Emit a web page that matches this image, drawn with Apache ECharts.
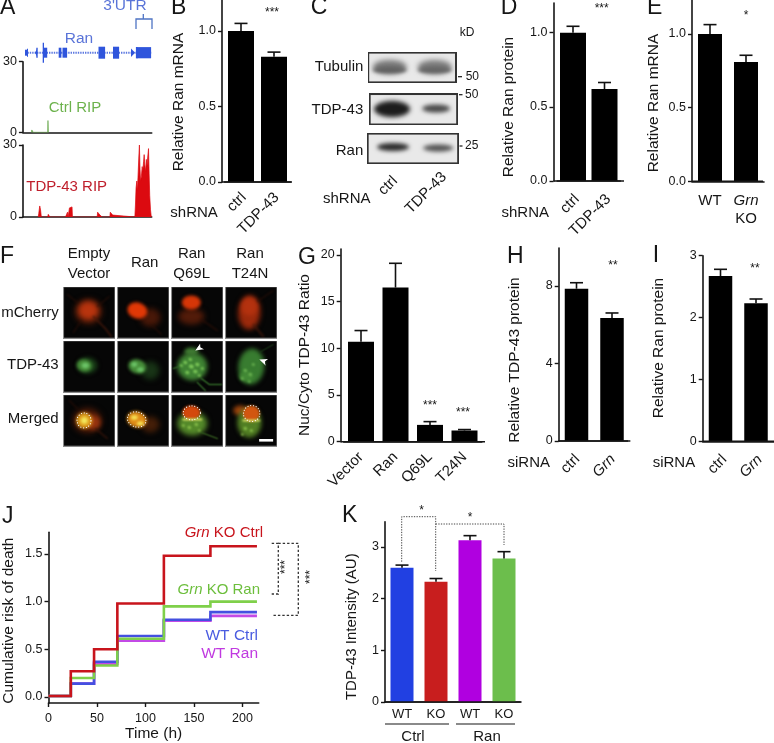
<!DOCTYPE html>
<html><head><meta charset="utf-8">
<style>html,body{margin:0;padding:0;background:#fff}#c{width:774px;height:743px}</style>
<script src="https://cdn.jsdelivr.net/npm/echarts@6/dist/echarts.min.js"></script>
</head><body><div id="c"></div>
<script>
// ---------- data ----------
const ctrlRipProfile = [[8.6,0],[9,1],[10,1],[10.4,0],[25,0],[25.3,5],[25.7,0]];
const tdpRipProfile = [[15.5,0],[16,1.5],[17,4.6],[17.8,3],[18.6,0],[25,0],[25.6,1.1],[26.8,0.8],[27.2,0],
 [43,0],[44,1],[45,2],[45.6,0],[46.6,0],[47,3.8],[48.2,4.2],[49.6,4.2],[50,0],
 [75,0],[75.4,2],[77.4,2],[77.8,0.8],[79.3,1],[80,0],[87.8,0],[88.2,2],[90.2,2],[90.6,0.8],[92,0.8],[92.6,0],
 [113,0],[113.6,5],[114.2,12],[115,15],[115.6,11],[116.4,19],[117,25],[117.6,30],[118.2,20],[118.8,15],[119.6,17],[120.4,21],[121,19],[121.8,23],[122.4,26],[123,22],[123.8,19],[124.6,24],[125.2,21],[126,25],[126.8,28.5],[127.4,18],[128,9],[128.8,3],[129.6,0]];

const bCats = ['ctrl','TDP-43'], bValues = [1.0,0.83], bErrTops = [1.05,0.86];
const dCats = ['ctrl','TDP-43'], dValues = [1.0,0.62], dErrTops = [1.043,0.664];
const eCats = ['WT','Grn KO'], eValues = [1.0,0.81], eErrTops = [1.063,0.855];
const gCats = ['Vector','Ran','Q69L','T24N'], gValues = [10.7,16.5,1.8,1.2], gErrTops = [11.9,19.1,2.15,1.3];
const hCats = ['ctrl','Grn'], hValues = [7.85,6.34], hErrTops = [8.16,6.6];
const iCats = ['ctrl','Grn'], iValues = [2.67,2.23], iErrTops = [2.78,2.30];
const kCats = ['WT','KO','WT','KO'], kValues = [2.6,2.33,3.13,2.78], kErrTops = [2.65,2.39,3.22,2.91];
const kColors = ['#2140e2','#c81e1e','#b000e0','#6cbe4c'];

const jTimes = [0,23,47,71,119,167,215];
const jGrnKoCtrl = [0.01,0.27,0.50,0.98,1.48,1.58,1.58];
const jGrnKoRan  = [0.01,0.20,0.33,0.61,0.95,1.00,1.00];
const jWtCtrl    = [0.01,0.14,0.37,0.64,0.81,0.89,0.89];
const jWtRan     = [0.01,0.14,0.35,0.59,0.80,0.85,0.85];

const ticks01 = [0,0.5,1], ticksG = [0,5,10,15,20], ticksH = [0,4,8], ticksI = [0,1,2,3], ticksK = [0,1,2,3];
const ticksJy = [0,0.5,1,1.5], ticksJx = [0,50,100,150,200], ticksA = [0,30];

// ---------- helpers ----------
const FF = '"Liberation Sans", Arial, sans-serif';
const INK = '#161616';
const TICK = 12.5, LABEL = 15, NAME = 15.5;
const grids=[], xAxes=[], yAxes=[], series=[], gfx=[];

function T(x,y,text,o={}){
  const a=o.align||'center', v=o.v||'middle';
  gfx.push({type:'text',x,y,rotation:o.rot||0,silent:true,z:20,style:{text,
    fill:o.color||INK,fontSize:o.size||LABEL,fontFamily:FF,fontStyle:o.italic?'italic':'normal',
    align:a,textAlign:a,verticalAlign:v,textVerticalAlign:v,rich:o.rich}});
}
function L(pts,o={}){
  gfx.push({type:'polyline',silent:true,z:o.z||15,shape:{points:pts},
    style:{fill:null,stroke:o.color||INK,lineWidth:o.w||1.2,lineDash:o.dash||null}});
}
function R(x,y,w,h,color,z){ gfx.push({type:'rect',silent:true,z:z||15,shape:{x,y,width:w,height:h},style:{fill:color}}); }

function axisStyle(){return {show:true,lineStyle:{color:INK,width:1.6}};}
function valueAxis(idx,min,max,ticks,fmt,extra={},margin){
  return Object.assign({type:'value',gridIndex:idx,min,max,splitLine:{show:false},
    axisLine:Object.assign(axisStyle(),{onZero:false}),
    axisTick:{show:true,length:4,lineStyle:{color:INK,width:1.4},customValues:ticks},
    axisLabel:{show:true,customValues:ticks,margin:margin||6,color:INK,fontSize:TICK,fontFamily:FF,formatter:fmt||(v=>String(v))}},extra);
}
const errRender=(capW)=>(p,api)=>{
  const top=api.coord([api.value(0),api.value(1)]), base=api.coord([api.value(0),api.value(2)]);
  const st={stroke:'#111',lineWidth:1.6,fill:null};
  return {type:'group',children:[
    {type:'line',shape:{x1:top[0],y1:top[1],x2:base[0],y2:base[1]},style:st},
    {type:'line',shape:{x1:top[0]-capW,y1:top[1],x2:top[0]+capW,y2:top[1]},style:st}]};
};
function barPanel(c){
  const idx=grids.length, n=c.cats.length;
  const gl=c.c0-c.sp/2, gw=c.sp*n;
  grids.push({left:gl,top:c.top,width:gw,height:c.y0-c.top});
  const rich={i:{fontStyle:'italic',fontSize:c.xSize||LABEL,fontFamily:FF,color:INK}};
  xAxes.push({type:'category',gridIndex:idx,data:c.cats,
    axisLine:Object.assign(axisStyle(),{onZero:false}),axisTick:{show:false},
    axisLabel:{show:true,interval:0,rotate:c.rotate||0,margin:c.xMargin||7,color:INK,fontSize:c.xSize||LABEL,fontFamily:FF,
      padding:[0,-(c.slide||0),0,0],lineHeight:18,rich,formatter:v=>v.replace(' KO','\nKO').replace('Grn','{i|Grn}')}});
  const d=c.nameY-(c.top+c.y0)/2;
  yAxes.push(valueAxis(idx,0,c.ymax,c.ticks,c.fmt,{offset:gl-c.axL,name:c.name,nameLocation:'middle',
    nameGap:c.axL-c.nameX-9,nameRotate:90,
    nameTextStyle:{color:INK,fontSize:c.nameSize||NAME,fontFamily:FF,padding:d>=0?[0,2*d,0,0]:[0,0,0,-2*d]}}));
  L([[c.axL,c.y0],[c.axR,c.y0]],{w:1.6});
  series.push({type:'bar',xAxisIndex:idx,yAxisIndex:idx,barWidth:c.bw,animation:false,silent:true,
    data:c.values.map((v,i)=>({value:v,itemStyle:{color:c.colors?c.colors[i]:'#000'}}))});
  series.push({type:'custom',xAxisIndex:idx,yAxisIndex:idx,animation:false,silent:true,clip:false,z:5,
    renderItem:errRender(6.5),encode:{x:0,y:1},
    data:c.errs.map((e,i)=>[i,e,c.values[i]])});
}

// ---------- canvas "photos" (blots and micrographs) ----------
function canvasImg(x,y,w,h,draw){
  const s=2,cv=document.createElement('canvas');cv.width=w*s;cv.height=h*s;
  const ctx=cv.getContext('2d');ctx.scale(s,s);draw(ctx,w,h);
  gfx.push({type:'image',silent:true,z:3,style:{image:cv,x,y,width:w,height:h}});
}
function blob(ctx,x,y,rx,ry,rot,col,blur){
  ctx.save();ctx.filter=`blur(${blur*2}px)`;ctx.fillStyle=col;ctx.beginPath();
  ctx.ellipse(x,y,rx,ry,rot,0,Math.PI*2);ctx.fill();ctx.restore();
}
function stroke(ctx,pts,col,w,blur){
  ctx.save();ctx.filter=`blur(${blur*2}px)`;ctx.strokeStyle=col;ctx.lineWidth=w;ctx.lineCap='round';ctx.beginPath();
  pts.forEach((p,i)=>i?ctx.lineTo(p[0],p[1]):ctx.moveTo(p[0],p[1]));ctx.stroke();ctx.restore();
}
function blot(x,y,w,h,bands){
  canvasImg(x,y,w,h,(c)=>{
    c.fillStyle='#e9e9e9';c.fillRect(0,0,w,h);
    bands.forEach(b=>blob(c,b[0],b[1],b[2],b[3],0,b[4],b[5]));
    c.strokeStyle='#333';c.lineWidth=1.6;c.strokeRect(.8,.8,w-1.6,h-1.6);
  });
}
const dots=(c,list,col)=>list.forEach(p=>blob(c,p[0],p[1],p[2],p[2]*.8,.4,col,1));
function micro(x,y,paint){
  canvasImg(x,y,52,52,(c,w,h)=>{
    c.fillStyle='#060606';c.fillRect(0,0,w,h);paint(c);
    c.strokeStyle='#8a8a8a';c.lineWidth=.8;c.strokeRect(.4,.4,w-.8,h-.8);
  });
}
function dotted(c,x,y,rx,ry,rot){
  c.save();c.strokeStyle='#fff';c.lineWidth=1;c.setLineDash([1.1,1.7]);c.beginPath();c.ellipse(x,y,rx,ry,rot,0,Math.PI*2);c.stroke();c.restore();
}
function arrow(c,x,y,rot){
  c.save();c.translate(x,y);c.rotate(rot);c.fillStyle='#fff';c.beginPath();c.moveTo(0,0);c.lineTo(8,-3.5);c.lineTo(6,0);c.lineTo(8,3.5);c.closePath();c.fill();c.restore();
}
const cols=[63.3,117.3,171.3,225.3], rows=[286.5,340.5,394.5];
const RDim='#481808',GB='#6cc468',GM='#478f3a',GD='#1a3f18',FAINT='#2c0f07';
// mCherry row
micro(cols[0],rows[0],c=>{blob(c,25,25,14,13,0,RDim,3);blob(c,25,24,10,9,0,'#b8340e',2.6);
  stroke(c,[[30,30],[42,42],[48,50]],'#481a0b',1.4,1);stroke(c,[[34,20],[46,10]],FAINT,1,1);stroke(c,[[14,16],[4,8]],FAINT,1,1);stroke(c,[[18,34],[10,46]],FAINT,1,1);});
micro(cols[1],rows[0],c=>{blob(c,33,31,10,9,0,RDim,2.8);blob(c,20,24,10,8,.3,'#e03806',1.5);stroke(c,[[34,38],[44,48]],FAINT,1,1);});
micro(cols[2],rows[0],c=>{blob(c,20,30,13,8,0,'#521b09',2.8);blob(c,20,16,9.5,7,0,'#d63607',1.5);stroke(c,[[30,33],[46,44]],FAINT,1.2,1);});
micro(cols[3],rows[0],c=>{blob(c,24,26,11,17,.05,'#9c2a0c',2.6);blob(c,24,20,8,9,0,'#b4320f',2.2);stroke(c,[[28,38],[38,50]],'#481a0b',1.4,1.2);stroke(c,[[32,15],[48,4]],FAINT,1,1);});
// TDP-43 row
micro(cols[0],rows[1],c=>{blob(c,24,25,10,8,0,GD,2.2);blob(c,21,25,7.5,6,.2,GM,1.6);blob(c,22,25,3.6,2.8,0,GB,1.4);});
micro(cols[1],rows[1],c=>{blob(c,33,30,9,9,0,'#183416',2.8);blob(c,20,26,9,7,.3,GM,1.5);blob(c,17,24,3,2.4,0,GB,1.2);blob(c,23,29,3.4,2.2,0,GB,1.2);});
micro(cols[2],rows[1],c=>{blob(c,21,26,15,14,0,'#3f8333',2.5);blob(c,20,11,7,4,0,'#3f7a32',1.8);
  stroke(c,[[30,38],[38,44],[50,44]],'#2f6426',1.6,.9);stroke(c,[[26,42],[34,50]],'#2f6426',1.4,.9);stroke(c,[[8,26],[2,28]],'#2f6426',1.2,.8);
  dots(c,[[14,22,2],[20,26,2.6],[26,24,2.2],[24,31,2.2],[16,32,2],[31,28,1.6],[10,25,1.6],[28,35,1.6],[19,19,1.8]],'#7cc858');
  arrow(c,24,10,-.55);});
micro(cols[3],rows[1],c=>{blob(c,26,26,13,18,.1,'#387c30',2.5);blob(c,21,36,7,5,0,'#438a36',1.8);
  dots(c,[[20,30,1.8],[25,34,1.8],[17,38,1.6],[28,24,1.6],[24,41,1.4]],'#6cb652');stroke(c,[[34,12],[48,4]],'#1c4019',1,.9);
  arrow(c,34,19,.35);});
// merged row
micro(cols[0],rows[2],c=>{blob(c,24,26,14,12,0,'#561d08',3.2);blob(c,30,28,7,7,0,'#98340f',2.4);blob(c,21,26,8,8,0,'#e0a01e',1.7);blob(c,21,26,3.4,3.4,0,'#f2e65c',1.4);
  stroke(c,[[32,34],[44,44]],'#3c160a',1.2,1);stroke(c,[[14,14],[6,6]],FAINT,1,1);dotted(c,20.7,26,7,7.5,0);});
micro(cols[1],rows[2],c=>{blob(c,33,30,9,8,0,'#441e08',2.8);blob(c,19.5,25,10,8,.3,'#e08c18',1.5);blob(c,17,23,3.5,2.4,0,'#f4e054',1.2);blob(c,23,29,3.6,2.2,0,'#f4e054',1.2);dotted(c,19.4,25,9.4,7.5,.3);});
micro(cols[2],rows[2],c=>{blob(c,21,29,15,12,0,'#54892a',2.6);blob(c,20,18,9,7,0,'#d4480c',1.4);
  stroke(c,[[12,25],[30,25]],'#dce668',2,1.1);stroke(c,[[30,38],[46,44]],'#335a1f',1.4,.9);dots(c,[[18,33,1.8],[25,30,1.8],[12,31,1.5],[28,36,1.4]],'#8cc24c');dotted(c,20.4,18.4,8.6,7,0);});
micro(cols[3],rows[2],c=>{blob(c,15,16,7,5,0,'#9c430c',2.2);blob(c,24,28,12,15,0,'#527f24',2.4);blob(c,26,19,8.4,8,0,'#d25610',1.4);
  stroke(c,[[18,26],[34,26]],'#dce668',2,1.1);dots(c,[[20,34,1.8],[26,36,1.6],[17,40,1.4]],'#8cc24c');dotted(c,26.4,19,8.2,8,0);
  c.fillStyle='#fff';c.fillRect(34,44.5,14,2.6);});

blot(367.7,52,89,31,[[22,15,17,7,'#777',2.6],[22,18,17,3,'#606060',1.8],[67,15,17,7,'#7a7a7a',2.6],[67,18,17,3,'#646464',1.8]]);
blot(369,93.3,88.7,31.4,[[23,15.5,18,8,'#1c1c1c',2.4],[67,15,14,4,'#4a4a4a',2.2]]);
blot(367,133,91.7,31,[[26,14,16,4,'#2c2c2c',2.2],[71,15,15,3.6,'#555',2.2]]);

// ---------- panel A ----------
function trackPanel(top,y0,color,data){
  const idx=grids.length;
  grids.push({left:21.7,top,width:130,height:y0-top});
  xAxes.push({type:'value',gridIndex:idx,min:0,max:130,splitLine:{show:false},axisTick:{show:false},axisLabel:{show:false},
    axisLine:Object.assign(axisStyle(),{onZero:false})});
  yAxes.push(valueAxis(idx,0,30,ticksA));
  series.push({type:'line',xAxisIndex:idx,yAxisIndex:idx,data,symbol:'none',animation:false,silent:true,
    lineStyle:{color,width:.7},areaStyle:{color,opacity:1}});
}
trackPanel(61.7,132.3,'#6cab50',ctrlRipProfile);
trackPanel(145,217,'#dc0a10',tdpRipProfile);
const BL='#2f55dc';
L([[25,52.7],[152,52.7]],{color:'#5c78e0',w:2,dash:[1.4,1]});
[[25,2.6,3],[27,.9,4],[42.7,1.2,10],[43.7,3.4,5],[58.7,2.6,5],[62.5,4.5,5],[98.5,6.5,6],[113,6,6],[137,14,5.6]].forEach(b=>R(b[0],52.7-b[2],b[1]+.1,b[2]*2,BL));
L([[37,47.7],[37,57.7]],{color:BL,w:1.4});
L([[136.7,47],[136.7,58.4]],{color:BL,w:1.6});
gfx.push({type:'polygon',silent:true,z:15,shape:{points:[[131,48.5],[135,52.7],[131,57]]},style:{fill:BL}});
gfx.push({type:'polygon',silent:true,z:15,shape:{points:[[35,52.7],[37,49],[37,56.5]]},style:{fill:BL}});
L([[136,29],[136,19],[152,19],[152,29]],{color:'#4f74c4',w:1.3});
L([[143.3,14],[143.3,19]],{color:'#4f74c4',w:1.3});
T(125,6,"3'UTR",{color:'#5a74d8',size:15.5});
T(79,39,'Ran',{color:'#5a74d8',size:15.5});
T(75,108,'Ctrl RIP',{color:'#6cb24c',size:15});
T(66.7,187,'TDP-43 RIP',{color:'#bf1e2b',size:15});

// ---------- bar panels ----------
barPanel({cats:bCats,values:bValues,errs:bErrTops,axL:222,axR:292,c0:241,sp:33,top:0,y0:182,ymax:1.205,ticks:ticks01,fmt:v=>v.toFixed(1),bw:26,rotate:45,slide:4,xMargin:16,name:'Relative Ran mRNA',nameX:178,nameY:102});
barPanel({cats:dCats,values:dValues,errs:dErrTops,axL:553.5,axR:624,c0:573,sp:31.5,top:3,y0:181,ymax:1.2,ticks:ticks01,fmt:v=>v.toFixed(1),bw:26,rotate:45,slide:5.6,xMargin:20,name:'Relative Ran protein',nameX:508,nameY:107});
barPanel({cats:eCats,values:eValues,errs:eErrTops,axL:692,axR:763,c0:710,sp:36,top:0,y0:181.3,ymax:1.23,ticks:ticks01,fmt:v=>v.toFixed(1),bw:24,xMargin:11,name:'Relative Ran mRNA',nameX:652.7,nameY:103});
barPanel({cats:gCats,values:gValues,errs:gErrTops,axL:340.7,axR:485,c0:361,sp:34.5,top:249,y0:441.7,ymax:20.63,ticks:ticksG,bw:26,rotate:45,xMargin:13,name:'Nuc/Cyto TDP-43 Ratio',nameX:304,nameY:355});
barPanel({cats:hCats,values:hValues,errs:hErrTops,axL:558.7,axR:628,c0:576.5,sp:35.5,top:248,y0:441,ymax:9.95,ticks:ticksH,bw:23.5,rotate:45,slide:1.4,xMargin:17,name:'Relative TDP-43 protein',nameX:514,nameY:360});
barPanel({cats:iCats,values:iValues,errs:iErrTops,axL:702.7,axR:774,c0:720.5,sp:35.5,top:255.7,y0:441.3,ymax:3,ticks:ticksI,bw:23.5,rotate:45,slide:5.6,xMargin:20,name:'Relative Ran protein',nameX:658,nameY:348});
barPanel({cats:kCats,values:kValues,errs:kErrTops,colors:kColors,axL:385,axR:520.7,c0:402,sp:34,top:521.7,y0:702,ymax:3.49,ticks:ticksK,bw:23,xSize:13,xMargin:3.5,nameSize:15,name:'TDP-43 Intensity (AU)',nameX:350,nameY:626.7});

// ---------- panel J ----------
(function(){
  const idx=grids.length;
  grids.push({left:47.7,top:532.3,width:211,height:171.4});
  xAxes.push(valueAxis(idx,0,216.8,ticksJx,null,{name:'Time (h)',nameLocation:'middle',nameGap:23,
    nameTextStyle:{color:INK,fontSize:NAME,fontFamily:FF}},9));
  yAxes.push(valueAxis(idx,-0.0626,1.726,ticksJy,v=>v.toFixed(1),{name:'Cumulative risk of death',nameLocation:'middle',nameGap:31.5,nameRotate:90,
    nameTextStyle:{color:INK,fontSize:NAME,fontFamily:FF,padding:[0,2*3,0,0]}}));
  const line=(vals,color,z)=>series.push({type:'line',xAxisIndex:idx,yAxisIndex:idx,step:'end',symbol:'none',animation:false,silent:true,z,
    lineStyle:{color,width:2.6,join:'miter',cap:'butt'},data:jTimes.map((t,i)=>[t,vals[i]])});
  line(jWtRan,'#c34ae6',2);line(jWtCtrl,'#4450e0',3);line(jGrnKoRan,'#7fd04a',4);line(jGrnKoCtrl,'#c8141c',5);
})();
const rj={i:{fontStyle:'italic',fontSize:15,fontFamily:FF,fill:'#c8141c'},n:{fontSize:15,fontFamily:FF,fill:'#c8141c'}};
T(263,533,'{i|Grn}{n| KO Ctrl}',{align:'right',rich:rj,color:'#c8141c'});
const rg={i:{fontStyle:'italic',fontSize:15,fontFamily:FF,fill:'#6cbe3c'},n:{fontSize:15,fontFamily:FF,fill:'#6cbe3c'}};
T(260,590,'{i|Grn}{n| KO Ran}',{align:'right',rich:rg,color:'#6cbe3c'});
T(258,635.7,'WT Ctrl',{align:'right',color:'#4a5ce0',size:15.5});
T(258,654,'WT Ran',{align:'right',color:'#c03ae0',size:15.5});
L([[271.7,543.3],[278.3,543.3],[278.3,594],[271.7,594]],{dash:[2.4,2],color:'#333',w:1.3});
L([[278.3,543.3],[298.3,543.3],[298.3,615.3],[271.7,615.3]],{dash:[2.4,2],color:'#333',w:1.3});
T(285.7,567,'***',{rot:Math.PI/2,size:12});
T(310.7,577,'***',{rot:Math.PI/2,size:12});

// ---------- panel K decor ----------
L([[401.7,561.7],[401.7,516.7],[435.7,516.7],[435.7,571]],{dash:[1.3,1.3],color:'#444',w:1});
L([[435.7,524],[504,524],[504,545]],{dash:[1.3,1.3],color:'#444',w:1});
T(421.7,511,'*',{size:12});T(470,518,'*',{size:12});
L([[385,724],[449,724]],{w:1.2});L([[456,724],[515,724]],{w:1.2});
T(413,737,'Ctrl');T(487,737,'Ran');

// ---------- other text ----------
[['A',0,8],['B',171,8],['C',310.7,8],['D',500.7,8],['E',647,8],['F',0,257],['G',298,258],['H',507,257],['I',652.7,256],['J',2,517],['K',342,516]]
 .forEach(p=>T(p[1],p[2],p[0],{align:'left',size:23}));
T(170.3,212.7,'shRNA',{align:'left'});
T(323,199,'shRNA',{align:'left'});
T(549,213,'shRNA',{align:'right'});
T(550,463,'siRNA',{align:'right'});
T(652.7,462.7,'siRNA',{align:'left'});
T(272,13,'***',{size:12});T(601.7,9,'***',{size:12});T(746,16,'*',{size:12});
T(430,406,'***',{size:12});T(463,413,'***',{size:12});T(613,266,'**',{size:12});T(755,269,'**',{size:12});
// blot labels
T(363.3,66.7,'Tubulin',{align:'right'});T(363.3,110,'TDP-43',{align:'right'});T(363.3,150.7,'Ran',{align:'right'});
T(467,33,'kD',{size:12});
T(465.7,76.7,'50',{align:'left',size:12});T(465,94.7,'50',{align:'left',size:12});T(465,146,'25',{align:'left',size:12});
L([[458,76.7],[462,76.7]]);L([[459,94.7],[462.5,94.7]]);L([[459.5,146],[462.5,146]]);
T(388,185.7,'ctrl',{rot:Math.PI/4});T(426,193,'TDP-43',{rot:Math.PI/4});
// micrograph labels
T(89,254,'Empty');T(89,274,'Vector');T(144.7,263,'Ran');T(191.7,254,'Ran');T(191.7,274,'Q69L');T(250,254,'Ran');T(250,274,'T24N');
T(58.7,312.7,'mCherry',{align:'right'});T(58.7,365,'TDP-43',{align:'right'});T(58.7,419,'Merged',{align:'right'});

// ---------- chart ----------
const chart=echarts.init(document.getElementById('c'),null,{renderer:'canvas'});
chart.setOption({animation:false,backgroundColor:'#fff',grid:grids,xAxis:xAxes,yAxis:yAxes,series,graphic:{elements:gfx}});
</script></body></html>
